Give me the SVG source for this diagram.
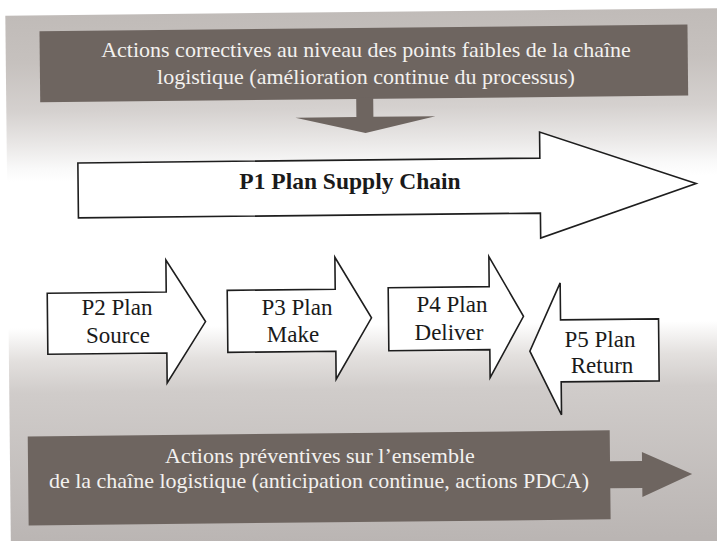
<svg xmlns="http://www.w3.org/2000/svg" width="717" height="541" viewBox="0 0 717 541">
  <defs>
    <style>
      .dark { fill: #6e6560; }
      .block { fill: #ffffff; stroke: #1e1e1e; stroke-width: 1.6; stroke-linejoin: miter; }
      text { font-family: 'Liberation Serif', 'Times New Roman', serif; text-anchor: middle; }
      .lbl { font-size: 23px; fill: #1a1a1a; }
      .inv { font-size: 22px; fill: #f3f1ef; }
      .title { font-size: 23.5px; font-weight: bold; fill: #1a1a1a; }
    </style>
    <linearGradient id="bg" x1="0" y1="0" x2="0" y2="541" gradientUnits="userSpaceOnUse">
      <stop offset="0.02" stop-color="#c0bbb8"/>
      <stop offset="0.11" stop-color="#c6c1be"/>
      <stop offset="0.20" stop-color="#d5d1cf"/>
      <stop offset="0.26" stop-color="#e9e7e6"/>
      <stop offset="0.305" stop-color="#f9f9f9"/>
      <stop offset="0.33" stop-color="#ffffff"/>
      <stop offset="0.60" stop-color="#ffffff"/>
      <stop offset="0.66" stop-color="#e3e0de"/>
      <stop offset="0.72" stop-color="#d0ccca"/>
      <stop offset="1" stop-color="#bab5b3"/>
    </linearGradient>
  </defs>

  <rect x="0" y="0" width="717" height="541" fill="#ffffff"/>

  <!-- shapes, drawn slightly tilted as on the printed page -->
  <g transform="rotate(-0.6 358 270)">
    <rect x="8" y="12" width="725" height="545" fill="url(#bg)"/>

    <g id="corrective">
      <rect class="dark" x="42" y="28" width="648" height="71"/>
    </g>
    <g id="p1">
      <path class="block" d="M79,160 H541 V134 L697,187 L541,240 V215 H79 Z"/>
    </g>
    <g id="p2">
      <path class="block" d="M47,290 H166 V258 L205,320 L166,381 V351 H47 Z"/>
    </g>
    <g id="p3">
      <path class="block" d="M227,289 H335 V257 L371,318 L335,379 V351 H227 Z"/>
    </g>
    <g id="p4">
      <path class="block" d="M388,288 H489 V258 L523,318 L489,379 V351 H388 Z"/>
    </g>
    <!-- return flow, pointing left -->
    <g id="p5">
      <path class="block" d="M658,322 H560 V285 L529,353 L560,417 V384 H658 Z"/>
    </g>
    <g id="preventive">
      <path class="dark" d="M26,433 H608 V464 H640 V455 L690,477.5 L640,500 V491 H608 V522 H26 Z"/>
    </g>
    <g id="connectors">
      <path class="dark" d="M358,98 H375 V117 H437 L367,133 L297,117 H358 Z"/>
    </g>
  </g>

  <!-- labels -->
  <g id="corrective-label">
    <text class="inv" x="366" y="57">Actions correctives au niveau des points faibles de la chaîne</text>
    <text class="inv" x="366" y="84">logistique (amélioration continue du processus)</text>
  </g>
  <g id="p1-label">
    <text class="title" x="350" y="188.5">P1 Plan Supply Chain</text>
  </g>
  <g id="p2-label">
    <text class="lbl" x="117" y="315">P2 Plan</text>
    <text class="lbl" x="118" y="343">Source</text>
  </g>
  <g id="p3-label">
    <text class="lbl" x="297" y="315">P3 Plan</text>
    <text class="lbl" x="293" y="342">Make</text>
  </g>
  <g id="p4-label">
    <text class="lbl" x="452" y="312">P4 Plan</text>
    <text class="lbl" x="449" y="340">Deliver</text>
  </g>
  <g id="p5-label">
    <text class="lbl" x="600" y="347">P5 Plan</text>
    <text class="lbl" x="602" y="373">Return</text>
  </g>
  <g id="preventive-label">
    <text class="inv" x="320" y="462.5">Actions préventives sur l’ensemble</text>
    <text class="inv" x="319" y="488">de la chaîne logistique (anticipation continue, actions PDCA)</text>
  </g>
</svg>
